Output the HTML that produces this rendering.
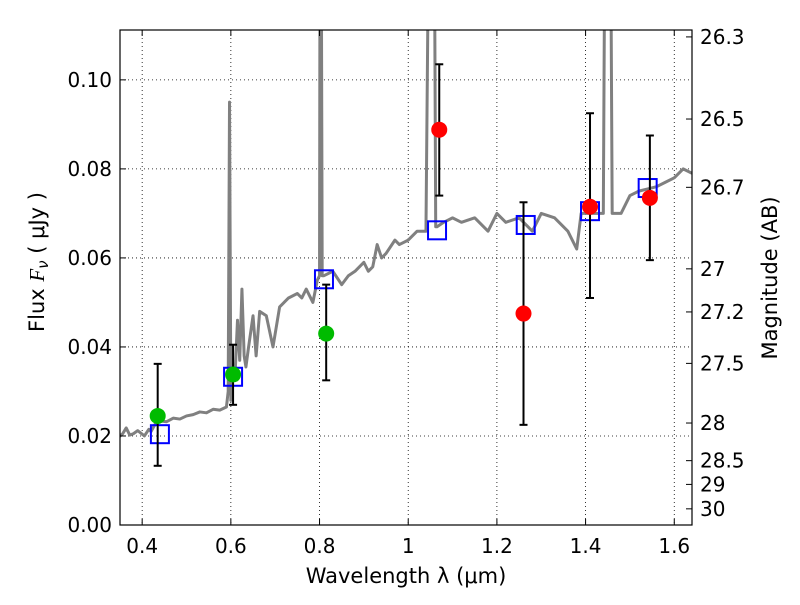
<!DOCTYPE html>
<html><head><meta charset="utf-8"><style>
body{margin:0;background:#fff}
svg text{font-family:"DejaVu Sans","Liberation Sans",sans-serif;fill:#000}
</style></head><body>
<svg id="chart" width="800" height="600" xmlns="http://www.w3.org/2000/svg">
<defs><clipPath id="clip"><rect x="120" y="30" width="572" height="495"/></clipPath></defs>
<g id="grid"></g>
<g id="marks" clip-path="url(#clip)"></g>
<rect x="120" y="30" width="572" height="495" fill="none" stroke="#000" stroke-width="1.2"/>
<g id="axes"></g>
<text x="406" y="583" font-size="21" text-anchor="middle">Wavelength  λ (μm)</text>
<text transform="translate(44,262) rotate(-90)" font-size="21" text-anchor="middle">Flux  <tspan font-style="italic" font-family="Liberation Serif">F</tspan><tspan font-size="15" font-style="italic" dy="4">ν</tspan><tspan dy="-4">  (  μJy )</tspan></text>
<text transform="translate(777,278) rotate(-90)" font-size="21" text-anchor="middle">Magnitude (AB)</text>
</svg>
<script>
const xTicks=[0.4,0.6,0.8,1.0,1.2,1.4,1.6];
const xTickLabels=["0.4","0.6","0.8","1","1.2","1.4","1.6"];
const yTicks=[0,0.02,0.04,0.06,0.08,0.10];
const yTickLabels=["0.00","0.02","0.04","0.06","0.08","0.10"];
const magTicks=[26.3,26.5,26.7,27,27.2,27.5,28,28.5,29,30];
const specLam=[0.348,0.356,0.364,0.372,0.38,0.39,0.405,0.415,0.42,0.43,0.44,0.455,0.47,0.485,0.5,0.515,0.53,0.545,0.56,0.575,0.59,0.594,0.597,0.6,0.605,0.61,0.615,0.62,0.625,0.63,0.634,0.64,0.65,0.657,0.665,0.68,0.695,0.71,0.72,0.73,0.75,0.76,0.77,0.785,0.795,0.8,0.802,0.806,0.81,0.83,0.85,0.865,0.88,0.9,0.91,0.92,0.93,0.94,0.95,0.97,0.98,1.0,1.02,1.04,1.052,1.056,1.062,1.065,1.08,1.1,1.12,1.15,1.18,1.2,1.22,1.25,1.28,1.3,1.33,1.36,1.38,1.39,1.42,1.44,1.447,1.453,1.46,1.48,1.5,1.52,1.54,1.56,1.58,1.6,1.62,1.64];
const specFlux=[0.0198,0.0205,0.0218,0.0202,0.0205,0.0212,0.020,0.0215,0.021,0.0228,0.0234,0.0232,0.024,0.0238,0.0245,0.0248,0.0254,0.0252,0.026,0.0258,0.0265,0.03,0.095,0.028,0.036,0.035,0.046,0.037,0.053,0.038,0.0355,0.04,0.047,0.038,0.048,0.047,0.040,0.049,0.05,0.051,0.052,0.051,0.053,0.050,0.055,0.056,0.2,0.056,0.056,0.057,0.054,0.056,0.057,0.059,0.057,0.058,0.063,0.060,0.061,0.064,0.063,0.064,0.066,0.066,0.2,0.2,0.067,0.067,0.068,0.069,0.068,0.069,0.066,0.070,0.068,0.069,0.066,0.070,0.069,0.066,0.062,0.070,0.070,0.070,0.2,0.2,0.070,0.070,0.074,0.075,0.0755,0.076,0.077,0.078,0.080,0.079];
const greenLam=[0.435,0.605,0.815];
const greenFlux=[0.0245,0.0338,0.043];
const greenLo=[0.0133,0.027,0.0325];
const greenHi=[0.0362,0.0405,0.054];
const redLam=[1.07,1.26,1.41,1.545];
const redFlux=[0.0888,0.0475,0.0715,0.0735];
const redLo=[0.074,0.0225,0.051,0.0595];
const redHi=[0.1035,0.0725,0.0925,0.0875];
const boxLam=[0.44,0.605,0.81,1.065,1.265,1.41,1.54];
const boxFlux=[0.0204,0.0333,0.0552,0.0662,0.0674,0.0705,0.0757];

const X0=120,X1=692,Y0=525,Y1=30,xmin=0.35,xmax=1.64,ymin=0,ymax=0.1112;
const sx=v=>X0+(v-xmin)/(xmax-xmin)*(X1-X0);
const sy=v=>Y0-(v-ymin)/(ymax-ymin)*(Y0-Y1);
const NS="http://www.w3.org/2000/svg";
function mk(tag,attrs,parent){const e=document.createElementNS(NS,tag);for(const k in attrs)e.setAttribute(k,attrs[k]);parent.appendChild(e);return e;}
const grid=document.getElementById('grid'),marks=document.getElementById('marks'),axes=document.getElementById('axes');
xTicks.forEach((t,i)=>{const x=sx(t);
 const g=mk('line',{x1:x,x2:x,y1:Y1,y2:Y0,stroke:'#000','stroke-dasharray':'1,3','stroke-width':0.8},grid);
 
 const tk=mk('line',{x1:x,x2:x,y1:Y0,y2:Y0-6,stroke:'#000'},axes);
 
 mk('line',{x1:x,x2:x,y1:Y1,y2:Y1+6,stroke:'#000'},axes);
 const tx=mk('text',{x:x,y:Y0+28,'font-size':20,'text-anchor':'middle'},axes);tx.textContent=xTickLabels[i];
 });
yTicks.forEach((t,i)=>{const y=sy(t);
 const g=mk('line',{x1:X0,x2:X1,y1:y,y2:y,stroke:'#000','stroke-dasharray':'1,3','stroke-width':0.8},grid);
 
 const tk=mk('line',{x1:X0,x2:X0+6,y1:y,y2:y,stroke:'#000'},axes);
 
 const tx=mk('text',{x:X0-8,y:y+7,'font-size':20,'text-anchor':'end'},axes);tx.textContent=yTickLabels[i];
 });
magTicks.forEach(m=>{const y=sy(Math.pow(10,-0.4*(m-23.9)));
 const tk=mk('line',{x1:X1,x2:X1-6,y1:y,y2:y,stroke:'#000'},axes);
 
 const tx=mk('text',{x:X1+8,y:y+7,'font-size':20},axes);tx.textContent=String(m);
 });
const sp=mk('polyline',{points:specLam.map((l,i)=>sx(l)+','+sy(specFlux[i])).join(' '),fill:'none',stroke:'#808080','stroke-width':3,'stroke-linejoin':'round'},marks);

function errbar(l,lo,hi){const x=sx(l);
 const e=mk('g',{stroke:'#000','stroke-width':2},marks);
 
 mk('line',{x1:x,x2:x,y1:sy(lo),y2:sy(hi)},e);
 mk('line',{x1:x-4,x2:x+4,y1:sy(lo),y2:sy(lo)},e);
 mk('line',{x1:x-4,x2:x+4,y1:sy(hi),y2:sy(hi)},e);}
boxLam.forEach((l,i)=>{const b=mk('rect',{x:sx(l)-9,y:sy(boxFlux[i])-9,width:18,height:18,fill:'none',stroke:'#0000ff','stroke-width':2},marks);
 });
greenLam.forEach((l,i)=>{errbar(l,greenLo[i],greenHi[i]);
 const c=mk('circle',{cx:sx(l),cy:sy(greenFlux[i]),r:8,fill:'#00bb00'},marks);
 });
redLam.forEach((l,i)=>{errbar(l,redLo[i],redHi[i]);
 const c=mk('circle',{cx:sx(l),cy:sy(redFlux[i]),r:8,fill:'#ff0000'},marks);
 });
</script>
</body></html>
